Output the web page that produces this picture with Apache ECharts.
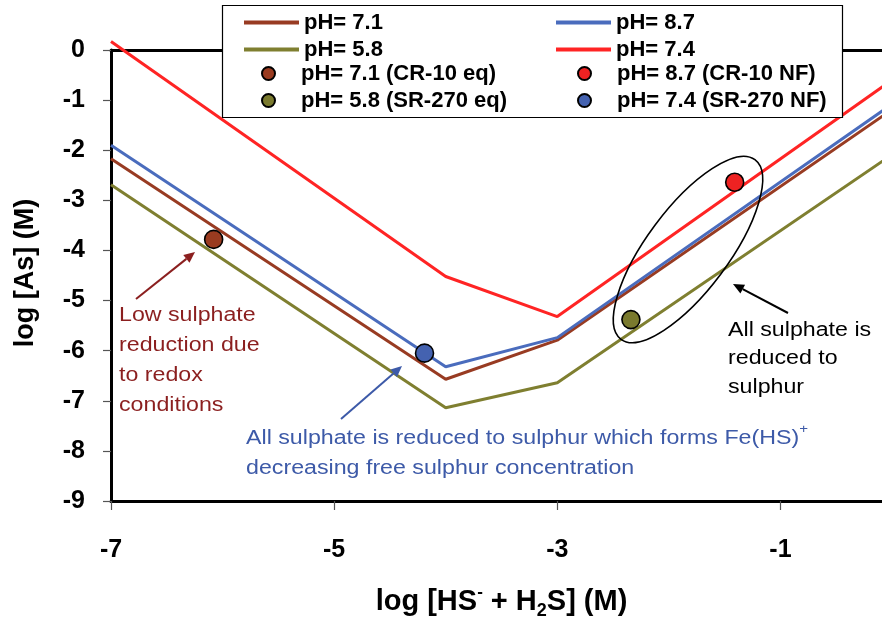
<!DOCTYPE html>
<html>
<head>
<meta charset="utf-8">
<script src="https://cdn.jsdelivr.net/npm/echarts@6/dist/echarts.min.js"></script>
<style>
  html, body { margin: 0; padding: 0; background: #fff; }
  #chart { width: 882px; height: 617px; }
</style>
</head>
<body>
<div id="chart"></div>
<script>
// log [HS- + H2S] (M) at the break points of the model curves
const sulphideX = [-7, -4, -3, 0];

// log [As] (M) model curves, one per pH
const asPH71 = [-2.17, -6.57, -5.79, -1.19];
const asPH87 = [-1.90, -6.32, -5.74, -1.08];
const asPH58 = [-2.69, -7.14, -6.64, -2.09];
const asPH74 = [0.17, -4.52, -5.32, -0.60];

// measured points [log sulphide, log As]
const pointCR10eq = [-6.08, -3.78];
const pointSR270eq = [-2.34, -5.38];
const pointCR10NF = [-1.41, -2.64];
const pointSR270NF = [-4.19, -6.05];

const FONT = '"Liberation Sans", Arial, sans-serif';

const C_BROWN = '#983b22';
const C_BLUE = '#4a6cbd';
const C_OLIVE = '#7f7f30';
const C_RED = '#ff2424';

function pairs(xs, ys) {
  return xs.map((x, i) => [x, ys[i]]);
}

function lineSeries(name, ys, color) {
  return {
    name: name,
    type: 'line',
    data: pairs(sulphideX, ys),
    symbol: 'none',
    clip: false,
    silent: true,
    z: 3,
    lineStyle: { color: color, width: 3 },
    itemStyle: { color: color }
  };
}

function pointSeries(name, pt, color) {
  return {
    name: name,
    type: 'scatter',
    data: [pt],
    symbol: 'circle',
    symbolSize: 18,
    clip: false,
    silent: true,
    z: 5,
    itemStyle: { color: color, borderColor: '#000', borderWidth: 1.6, opacity: 1 }
  };
}

// arrow built from a shaft and a filled head
function arrow(x1, y1, x2, y2, color) {
  const ang = Math.atan2(y2 - y1, x2 - x1);
  const hl = 11, hw = 5;
  const bx = x2 - hl * Math.cos(ang), by = y2 - hl * Math.sin(ang);
  const px = -Math.sin(ang) * hw, py = Math.cos(ang) * hw;
  return [
    { type: 'line', z: 30, silent: true,
      shape: { x1: x1, y1: y1, x2: bx, y2: by },
      style: { stroke: color, lineWidth: 2 } },
    { type: 'polygon', z: 30, silent: true,
      shape: { points: [[x2, y2], [bx + px, by + py], [bx - px, by - py]] },
      style: { fill: color } }
  ];
}

const legendText = { fontFamily: FONT, fontWeight: 'bold', fontSize: 22, color: '#000', lineHeight: 21 };

function legendBlock(left, top, icon, iconH, names) {
  return {
    orient: 'vertical',
    left: left, top: top,
    padding: 0,
    itemWidth: 55, itemHeight: iconH, itemGap: 5,
    icon: icon,
    selectedMode: false,
    z: 40,
    textStyle: legendText,
    data: names
  };
}

const option = {
  backgroundColor: '#fff',
  animation: false,
  grid: { left: 111, top: 50, width: 781, height: 451, containLabel: false, outerBoundsMode: 'none' },
  xAxis: [{
    type: 'value',
    min: -7, max: 0, interval: 2,
    position: 'bottom',
    name: '{t|log [HS}{sup|-}{t| + H}{sub|2}{t|S] (M)}',
    nameLocation: 'middle',
    nameGap: 83,
    nameTextStyle: {
      rich: {
        t: { fontFamily: FONT, fontWeight: 'bold', fontSize: 29, color: '#000', lineHeight: 36 },
        sup: { fontFamily: FONT, fontWeight: 'bold', fontSize: 17, color: '#000', verticalAlign: 'top', lineHeight: 36, padding: [0, 0, 13, 0] },
        sub: { fontFamily: FONT, fontWeight: 'bold', fontSize: 18, color: '#000', verticalAlign: 'bottom', lineHeight: 28 }
      }
    },
    splitLine: { show: false },
    axisLine: { show: true, onZero: false, lineStyle: { color: '#000', width: 3 } },
    axisTick: { show: true, length: 9, lineStyle: { color: '#555', width: 1.2 } },
    axisLabel: { margin: 37, fontFamily: FONT, fontWeight: 'bold', fontSize: 25, color: '#000', showMaxLabel: false }
  }, {
    type: 'value',
    min: -7, max: 0, interval: 2,
    position: 'top',
    splitLine: { show: false },
    axisLine: { show: true, onZero: false, lineStyle: { color: '#000', width: 3 } },
    axisTick: { show: false },
    axisLabel: { show: false }
  }],
  yAxis: {
    type: 'value',
    min: -9, max: 0, interval: 1,
    splitLine: { show: false },
    axisLine: { show: true, onZero: false, lineStyle: { color: '#000', width: 3 } },
    axisTick: { show: true, length: 8, lineStyle: { color: '#555', width: 1.2 } },
    axisLabel: { margin: 26, fontFamily: FONT, fontWeight: 'bold', fontSize: 25, color: '#000' }
  },
  legend: [
    legendBlock(244, 11.5, 'rect', 4, ['pH= 7.1', 'pH= 5.8']),
    legendBlock(261, 62.5, 'circle', 13, ['pH= 7.1 (CR-10 eq)', 'pH= 5.8 (SR-270 eq)']),
    legendBlock(556, 11.5, 'rect', 4, ['pH= 8.7', 'pH= 7.4']),
    legendBlock(577, 62.5, 'circle', 13, ['pH= 8.7 (CR-10 NF)', 'pH= 7.4 (SR-270 NF)'])
  ],
  series: [
    lineSeries('pH= 7.1', asPH71, C_BROWN),
    lineSeries('pH= 8.7', asPH87, C_BLUE),
    lineSeries('pH= 5.8', asPH58, C_OLIVE),
    lineSeries('pH= 7.4', asPH74, C_RED),
    pointSeries('pH= 7.1 (CR-10 eq)', pointCR10eq, '#9a3b20'),
    pointSeries('pH= 8.7 (CR-10 NF)', pointCR10NF, '#ee2222'),
    pointSeries('pH= 5.8 (SR-270 eq)', pointSR270eq, '#7a7a2e'),
    pointSeries('pH= 7.4 (SR-270 NF)', pointSR270NF, '#4462b0')
  ],
  graphic: [
    // legend frame
    { type: 'rect', z: 20, silent: true,
      shape: { x: 222.5, y: 5.5, width: 620, height: 112 },
      style: { fill: '#fff', stroke: '#000', lineWidth: 1.2 } },
    // y-axis title
    { type: 'text', z: 30, silent: true, x: 26, y: 273, rotation: Math.PI / 2,
      style: { text: 'log [As] (M)', fontFamily: FONT, fontWeight: 'bold', fontSize: 27,
               fill: '#000', align: 'center', verticalAlign: 'middle' } },
    // annotation: low sulphate reduction
    { type: 'text', z: 30, silent: true, x: 119, y: 300, scaleX: 1.16,
      style: { text: 'Low sulphate\nreduction due\nto redox\nconditions', fontFamily: FONT, fontSize: 20,
               lineHeight: 30, fill: '#8b1f1f', align: 'left', verticalAlign: 'top' } },
    ...arrow(136, 299, 195, 252, '#8b1f1f'),
    // annotation: sulphate fully reduced, Fe(HS)+ complex
    { type: 'text', z: 30, silent: true, x: 246, y: 423, scaleX: 1.16,
      style: { text: '{t|All sulphate is reduced to sulphur which forms Fe(HS)}{sup|+}\n{t|decreasing free sulphur concentration}',
               fontFamily: FONT, fill: '#3d5aa8', align: 'left', verticalAlign: 'top',
               rich: {
                 t: { fontFamily: FONT, fontSize: 20, lineHeight: 30, fill: '#3d5aa8' },
                 sup: { fontFamily: FONT, fontSize: 13, lineHeight: 30, verticalAlign: 'top', fill: '#3d5aa8' }
               } } },
    ...arrow(341, 419, 402, 366, '#3d5aa8'),
    // annotation: ellipse around the NF points and note
    { type: 'ellipse', z: 30, silent: true, x: 688, y: 249.5, rotation: 53.3 * Math.PI / 180,
      shape: { cx: 0, cy: 0, rx: 112, ry: 41 },
      style: { fill: 'none', stroke: '#000', lineWidth: 1.6 } },
    { type: 'text', z: 30, silent: true, x: 728, y: 316, scaleX: 1.16,
      style: { text: 'All sulphate is\nreduced to\nsulphur', fontFamily: FONT, fontSize: 20,
               lineHeight: 28.5, fill: '#000', align: 'left', verticalAlign: 'top' } },
    ...arrow(788, 313, 733, 284, '#000')
  ]
};

const chart = echarts.init(document.getElementById('chart'), null, { renderer: 'canvas' });
chart.setOption(option);
</script>
</body>
</html>
